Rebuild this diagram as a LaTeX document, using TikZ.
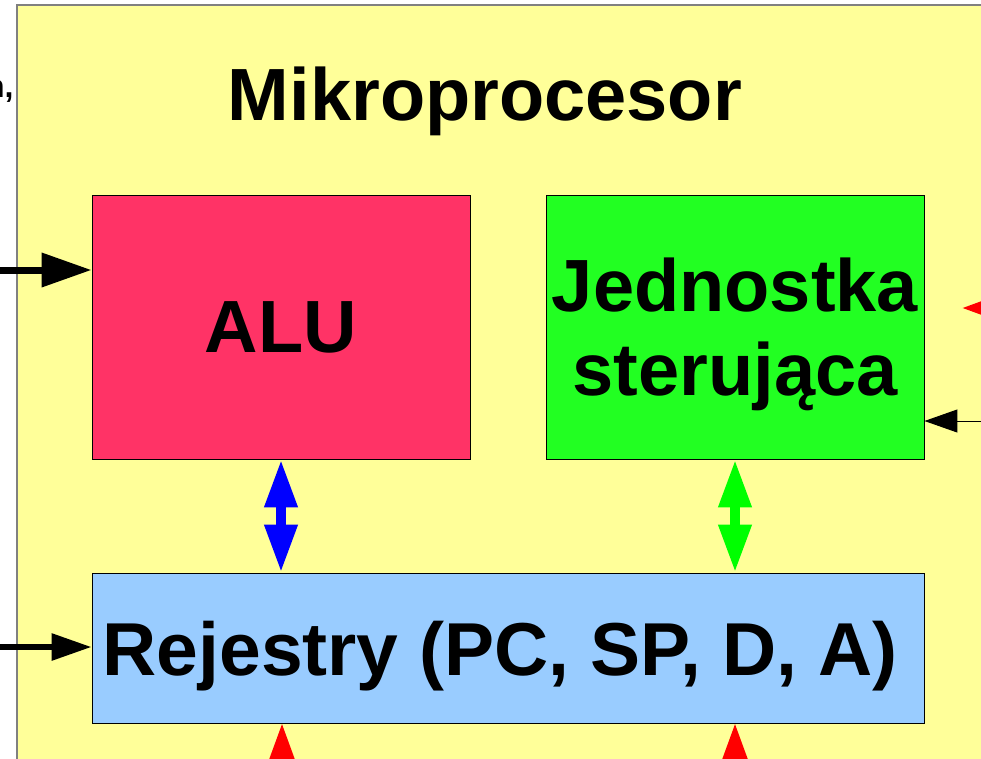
\documentclass[tikz,border=0pt]{standalone}
\usepackage{fontspec}
\setmainfont{Liberation Sans}
\usetikzlibrary{arrows.meta}
\definecolor{tlo}{HTML}{FFFF99}
\definecolor{alukol}{HTML}{FF3366}
\definecolor{jskol}{HTML}{22FF22}
\definecolor{szynakol}{HTML}{00FF00}
\definecolor{regkol}{HTML}{99CCFF}
\tikzset{
  blok/.style={draw=black,line width=.9pt,inner sep=0pt,font=\bfseries\fontsize{74}{84}\selectfont},
  grotD/.tip={Triangle[length=50pt,width=33pt]},
  grotS/.tip={Triangle[length=40pt,width=26pt]},
  grotM/.tip={Triangle[length=33pt,width=23pt]},
  grotP/.tip={Triangle[length=48pt,width=31pt]},
  grotR/.tip={Triangle[length=50pt,width=34pt]}
}
\begin{document}
\begin{tikzpicture}[x=1pt,y=-1pt]
\useasboundingbox (0,0) rectangle (981,758);\clip (0,0) rectangle (981,758);
\draw[fill=tlo,draw=black!50,line width=1.5pt] (17,5) rectangle (1010,790);
\node[anchor=base east,font=\bfseries\fontsize{32}{38}\selectfont] (frag) at (17,97) {n,};
\node[anchor=base,font=\bfseries\fontsize{74}{84}\selectfont] (tyt) at (485,120) {Mikroprocesor};
% bloki
\node[blok,fill=alukol,minimum width=378pt,minimum height=264pt] (alu) at (281,327) {ALU};
\node[blok,fill=jskol,minimum width=378pt,minimum height=264pt,align=center,text depth=0pt] (js) at (735,327) {Jednostka\\sterująca};
\node[blok,fill=regkol,minimum width=832pt,minimum height=150pt,text depth=0pt,font=\bfseries\fontsize{75}{84}\selectfont] (reg) at (508,648) {\hspace*{-16pt}Rejestry (PC, SP, D, A)};
% wejscia z lewej i z prawej
\coordinate (weA) at (-10,270);\coordinate (weR) at (-10,647);\coordinate (weJ) at (995,421);
\draw[line width=7pt,-grotD] (weA) -- (alu.west |- weA);
\draw[line width=6pt,-grotS] (weR) -- (reg.west |- weR);
\draw[line width=1pt,-grotM] (weJ) -- (js.east |- weJ);
\coordinate (czA) at (1040,308);\coordinate (czB) at (962,308);
\draw[red,line width=7pt,-grotR] (czA) -- (czB);
% szyny
\draw[blue,line width=10pt,grotP-grotP] (alu.south) -- (alu.south |- reg.north);
\draw[szynakol,line width=10pt,grotP-grotP] (js.south) -- (js.south |- reg.north);
\coordinate (dolA) at (282,820);\coordinate (dolB) at (735,820);
\draw[red,line width=7pt,-grotR] (dolA) -- (dolA |- reg.south);
\draw[red,line width=7pt,-grotR] (dolB) -- (dolB |- reg.south);
\end{tikzpicture}
\end{document}
